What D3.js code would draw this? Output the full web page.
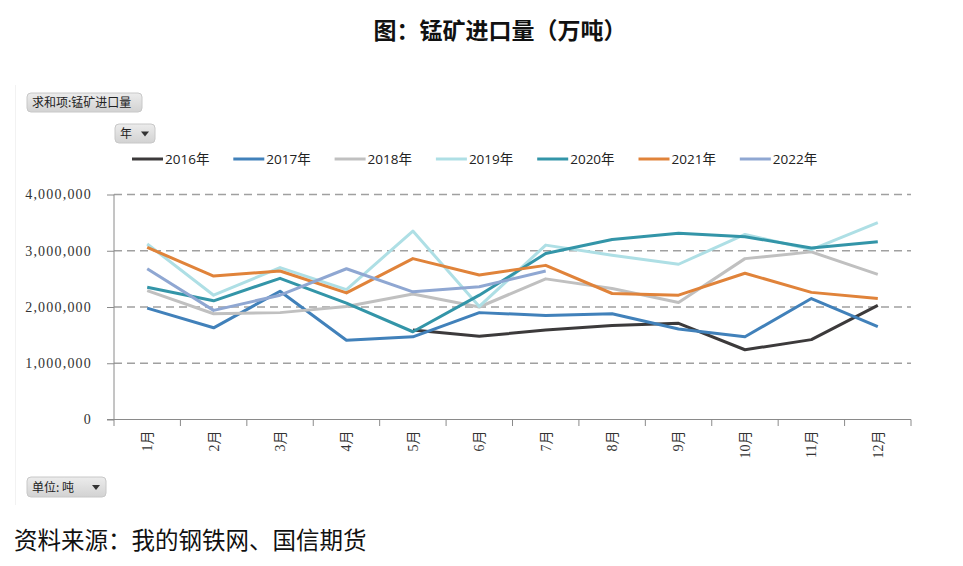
<!DOCTYPE html>
<html><head><meta charset="utf-8">
<script src="https://cdn.jsdelivr.net/npm/d3@7"></script>
<style>body{margin:0;background:#fff}svg{display:block}
.serif text{font-family:"Liberation Serif","DejaVu Serif","Noto Sans CJK SC",serif !important}</style>
</head><body><svg id="c" width="963" height="566"></svg>
<script>
const months = ["1月","2月","3月","4月","5月","6月","7月","8月","9月","10月","11月","12月"];
const years = ["2016年","2017年","2018年","2019年","2020年","2021年","2022年"];
const yTicks = [0,1000000,2000000,3000000,4000000];
const s2016 = [null,null,null,null,1590000,1480000,1590000,1670000,1710000,1240000,1420000,2030000];
const s2017 = [1980000,1630000,2280000,1410000,1470000,1900000,1850000,1880000,1610000,1470000,2150000,1650000];
const s2018 = [2290000,1880000,1900000,2010000,2230000,2000000,2500000,2330000,2080000,2860000,2980000,2580000];
const s2019 = [3120000,2210000,2700000,2310000,3350000,2010000,3100000,2920000,2760000,3290000,3020000,3500000];
const s2020 = [2350000,2110000,2510000,2070000,1560000,2210000,2950000,3200000,3310000,3250000,3050000,3160000];
const s2021 = [3060000,2550000,2640000,2250000,2860000,2570000,2740000,2240000,2210000,2600000,2260000,2150000];
const s2022 = [2680000,1940000,2210000,2680000,2270000,2360000,2640000,null,null,null,null,null];
const colors = ["#3c3a3b","#4181ba","#c0c0c0","#aedfe5","#3395a8","#e0833a","#8fa7d2"];
const seriesList = [s2016,s2017,s2018,s2019,s2020,s2021,s2022];

const svg = d3.select("#c");
const x = d3.scaleBand().domain(months).range([114,911]);
const y = d3.scaleLinear().domain([0,4000000]).range([419.5,194.5]);

svg.append("line").attr("x1",15.5).attr("x2",15.5).attr("y1",85).attr("y2",505).attr("stroke","#f2f2f2");

svg.append("text").attr("x",500).attr("y",39).attr("text-anchor","middle")
  .attr("font-family","Noto Sans CJK SC").attr("font-weight","bold").attr("font-size",23)
  .attr("fill","#111").text("图：锰矿进口量（万吨）");

function button(x0,y0,w,h,label,arrow){
  const g = svg.append("g");
  const grad = "g"+Math.round(x0)+"_"+Math.round(y0);
  const lg = svg.append("defs").append("linearGradient").attr("id",grad).attr("x1",0).attr("x2",0).attr("y1",0).attr("y2",1);
  lg.append("stop").attr("offset","0%").attr("stop-color","#ececec");
  lg.append("stop").attr("offset","100%").attr("stop-color","#d2d2d2");
  g.append("rect").attr("x",x0).attr("y",y0).attr("width",w).attr("height",h).attr("rx",4)
    .attr("fill","url(#"+grad+")").attr("stroke","#c8c8c8");
  g.append("text").attr("x",x0+5).attr("y",y0+h/2+4.5).attr("font-family","Noto Sans CJK SC")
    .attr("font-size",12).attr("fill","#222").text(label);
  if(arrow){
    const ax = x0+w-14, ay = y0+h/2-2;
    g.append("path").attr("d",`M${ax},${ay}L${ax+8},${ay}L${ax+4},${ay+5}Z`).attr("fill","#333");
  }
}
button(27,93,115,19,"求和项:锰矿进口量",false);
button(115,124,40,19,"年",true);
button(27,477,79,20,"单位: 吨",true);

const grid = svg.append("g");
yTicks.filter(d=>d>0).forEach(d=>{
  grid.append("line").attr("x1",114).attr("x2",911).attr("y1",y(d)).attr("y2",y(d))
    .attr("stroke","#a0a0a0").attr("stroke-width",1.3).attr("stroke-dasharray","8,5");
});

const yAxis = svg.append("g").attr("class","serif").attr("transform","translate(114,0)")
  .call(d3.axisLeft(y).tickValues(yTicks).tickSize(7).tickPadding(15).tickFormat(d3.format(",")));
yAxis.select(".domain").attr("stroke","#8a8a8a").attr("d","M0,194.5V419.5");
yAxis.selectAll(".tick line").attr("stroke","#8a8a8a");
yAxis.selectAll("text").attr("font-size",14).attr("fill","#333").attr("letter-spacing",1.2);

const xAxis = svg.append("g").attr("class","serif").attr("transform","translate(0,419.5)")
  .call(d3.axisBottom(x).tickSizeOuter(0).tickSize(0));
xAxis.select(".domain").attr("stroke","#8a8a8a").attr("d","M107,0H911");
xAxis.selectAll(".tick line").remove();
xAxis.selectAll(".tick text").attr("font-size",14).attr("fill","#333")
  .attr("transform","rotate(-90)").attr("text-anchor","end").attr("x",-11).attr("y",0).attr("dy","0.35em");
const bounds = months.map(m=>x(m)).concat([911]);
bounds.forEach(b=>{
  svg.append("line").attr("x1",b).attr("x2",b).attr("y1",419.5).attr("y2",426).attr("stroke","#8a8a8a");
});

const line = d3.line().defined(d=>d.v!=null).x(d=>x(d.m)+x.bandwidth()/2).y(d=>y(d.v));
seriesList.forEach((s,i)=>{
  svg.append("path").datum(months.map((m,j)=>({m:m,v:s[j]})))
    .attr("fill","none").attr("stroke",colors[i]).attr("stroke-width",3)
    .attr("stroke-linejoin","round").attr("d",line);
});

const lg = svg.append("g");
years.forEach((yr,i)=>{
  const lx = 132 + i*101.3;
  lg.append("line").attr("x1",lx).attr("x2",lx+31).attr("y1",159).attr("y2",159)
    .attr("stroke",colors[i]).attr("stroke-width",3);
  lg.append("text").attr("x",lx+33).attr("y",164).attr("font-family","Open Sans, Noto Sans CJK SC")
    .attr("font-size",13.5).attr("fill","#222").text(yr);
});

svg.append("text").attr("x",14).attr("y",549).attr("font-family","Noto Sans CJK SC")
  .attr("font-size",23.5).attr("fill","#111").text("资料来源：我的钢铁网、国信期货");
</script></body></html>
